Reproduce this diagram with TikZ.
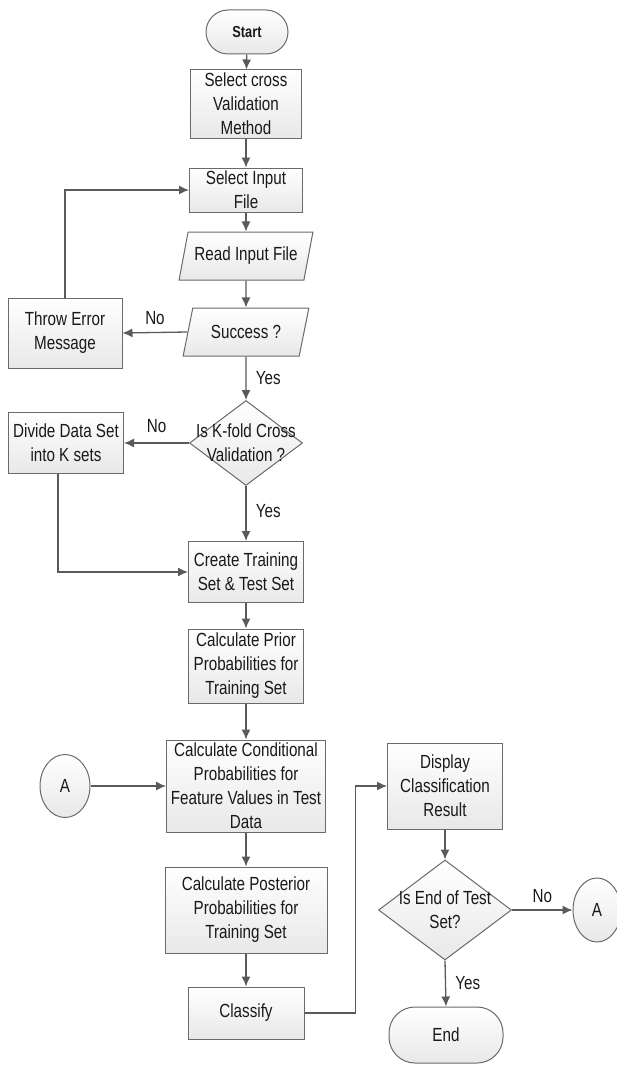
\documentclass[tikz,border=0pt]{standalone}
\usepackage{fontspec}
\setmainfont[FakeStretch=0.8]{Liberation Sans}
\usetikzlibrary{shapes.geometric,arrows.meta}

\definecolor{edgegray}{HTML}{6A6A6A}
\definecolor{linegray}{HTML}{5A5A5A}
\tikzset{
  base/.style={draw=edgegray, line width=1pt, top color=white, bottom color=black!9,
    text=black!90, font=\fontsize{19}{24}\selectfont, align=center, inner sep=2pt},
  proc/.style={base, rectangle},
  term/.style={base, rectangle, rounded corners=22pt},
  io/.style={base, trapezium, trapezium left angle=69, trapezium right angle=111,
    trapezium stretches=true, minimum height=48pt},
  dec/.style={base, diamond, inner sep=0pt},
  conn/.style={base, ellipse, minimum width=50pt, minimum height=63pt},
  arr/.style={draw=linegray, line width=1.3pt, -{Latex[length=10pt,width=9pt]}},
  lbl/.style={text=black!90, font=\fontsize{19}{24}\selectfont}
}

\begin{document}
\begin{tikzpicture}[x=1pt,y=-1pt]
\useasboundingbox (0,0) rectangle (616,1065);

% main column
\node[term, minimum width=82pt, minimum height=44pt, font=\bfseries\fontsize{16}{20}\selectfont] (start) at (247,32) {Start};
\node[proc, minimum width=111pt, minimum height=68pt] (sel) at (246,104) {Select cross\\Validation\\Method};
\node[proc, minimum width=113pt, minimum height=44pt] (inp) at (246,190) {Select Input\\File};
\node[io, minimum width=134pt] (read) at (246,256) {Read Input File};
\node[io, minimum width=126pt] (succ) at (246,332) {Success ?};
\node[proc, minimum width=114pt, minimum height=70pt] (err) at (65,333) {Throw Error\\Message};
\node[dec, minimum width=113pt, minimum height=85pt,
  label={[lbl, align=center]center:Is K-fold Cross\\Validation ?}] (kfold) at (246,443) {};
\node[proc, minimum width=115pt, minimum height=61pt] (div) at (66,443) {Divide Data Set\\into K sets};
\node[proc, minimum width=115pt, minimum height=61pt] (create) at (246,572) {Create Training\\Set \& Test Set};
\node[proc, minimum width=115pt, minimum height=74pt] (prior) at (246,666) {Calculate Prior\\Probabilities for\\Training Set};
\node[proc, minimum width=159pt, minimum height=92pt] (cond) at (246,786) {Calculate Conditional\\Probabilities for\\Feature Values in Test\\Data};
\node[conn] (a1) at (65,786) {A};
\node[proc, minimum width=162pt, minimum height=86pt] (post) at (246,910) {Calculate Posterior\\Probabilities for\\Training Set};
\node[proc, minimum width=116pt, minimum height=52pt] (cls) at (246,1013) {Classify};

% right column
\node[proc, minimum width=115pt, minimum height=86pt] (disp) at (445,786) {Display\\Classification\\Result};
\node[dec, minimum width=133pt, minimum height=100pt,
  label={[lbl, align=center]center:Is End of Test\\Set?}] (endq) at (445,910) {};
\node[conn, minimum width=48pt, minimum height=64pt] (a2) at (597,910) {A};
\node[term, minimum width=114pt, minimum height=56pt, rounded corners=26pt] (end) at (446,1035) {End};

% connectors
\draw[arr] (start) -- (sel);
\draw[arr] (sel) -- (inp);
\draw[arr] (inp) -- (read);
\draw[arr] (read) -- (succ);
\draw[arr] (succ.west) -- (err.east) node[lbl, pos=0.5, above=4pt] {No};
\draw[arr] (err.north) |- (inp.west);
\draw[arr] (succ.south) -- (kfold.north) node[lbl, pos=0.5, right=6pt] {Yes};
\draw[arr] (kfold.west) -- (div.east) node[lbl, pos=0.5, above=6pt] {No};
\draw[arr] ([xshift=-8pt]div.south) |- (create.west);
\draw[arr] (kfold.south) -- (create.north) node[lbl, pos=0.45, right=6pt] {Yes};
\draw[arr] (create) -- (prior);
\draw[arr] (prior) -- (cond);
\draw[arr] (a1.east) -- (cond.west);
\draw[arr] (cond) -- (post);
\draw[arr] (post) -- (cls);
\draw[arr] (cls.east) -- ++(51,0) |- (disp.west);
\draw[arr] (disp) -- (endq.north);
\draw[arr] (endq.east) -- (a2.west) node[lbl, pos=0.5, above=3pt] {No};
\draw[arr] (endq.south) -- (end.north) node[lbl, pos=0.5, right=6pt] {Yes};
\end{tikzpicture}
\end{document}
